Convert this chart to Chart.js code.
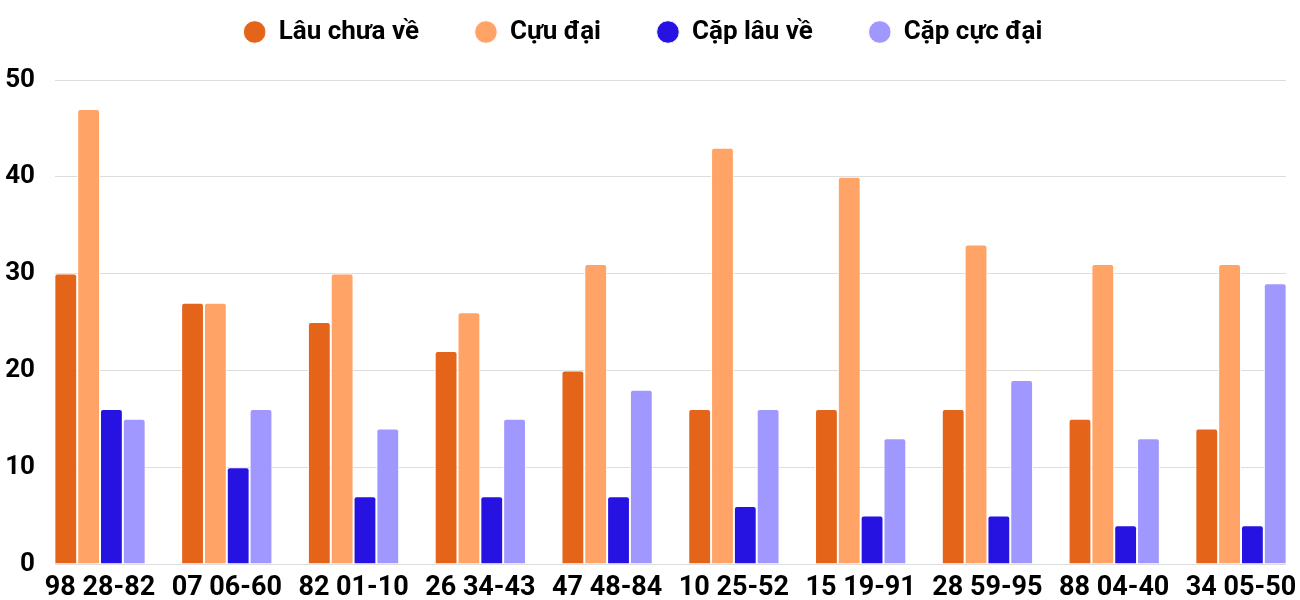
<!DOCTYPE html>
<html>
<head>
<meta charset="utf-8">
<script src="https://cdn.jsdelivr.net/npm/chart.js@4"></script>
<style>
  html, body { margin: 0; padding: 0; background: #fff; }
  #wrap { width: 1300px; height: 600px; }
</style>
</head>
<body>
<div id="wrap"><canvas id="chart"></canvas></div>
<script>
// Data
const categories = ['98 28-82', '07 06-60', '82 01-10', '26 34-43', '47 48-84',
                    '10 25-52', '15 19-91', '28 59-95', '88 04-40', '34 05-50'];
const lauChuaVe  = [30, 27, 25, 22, 20, 16, 16, 16, 15, 14];
const cuuDai     = [47, 27, 30, 26, 31, 43, 40, 33, 31, 31];
const capLauVe   = [16, 10, 7, 7, 7, 6, 5, 5, 4, 4];
const capCucDai  = [15, 16, 14, 15, 18, 16, 13, 19, 13, 29];
const yTicks     = [0, 10, 20, 30, 40, 50];

const seriesNames  = ['Lâu chưa về', 'Cựu đại', 'Cặp lâu về', 'Cặp cực đại'];
const seriesColors = ['#E4641A', '#FFA366', '#2613E2', '#A098FE'];
const seriesValues = [lauChuaVe, cuuDai, capLauVe, capCucDai];

// points on a linear x axis, one group per category index
function toPoints(values) {
    return values.map((v, i) => ({ x: i, y: v }));
}

// keep the legend block a fixed height so the plot starts where the original does
const legendHeight = {
    id: 'legendHeight',
    beforeInit(chart) {
        const fit = chart.legend.fit;
        chart.legend.fit = function () {
            fit.call(this);
            this.height = 117;
        };
    },
};

const ctx = document.getElementById('chart').getContext('2d');

const chart = new Chart(ctx, {
    type: 'bar',
    data: {
        datasets: seriesNames.map((name, k) => ({
            label: name,
            data: toPoints(seriesValues[k]),
            backgroundColor: seriesColors[k],
            borderColor: '#ffffff',
            borderWidth: 1,
            borderRadius: 3,
            borderSkipped: 'bottom',
            categoryPercentage: 0.72,
            barPercentage: 1.0,
        })),
    },
    options: {
        responsive: true,
        maintainAspectRatio: false,
        animation: false,
        layout: { padding: { left: 0, right: 14, top: -37, bottom: 0 } },
        plugins: {
            legend: {
                position: 'top',
                labels: {
                    usePointStyle: true,
                    pointStyle: 'circle',
                    boxWidth: 22,
                    boxHeight: 16,
                    padding: 56,
                    color: '#000',
                    font: { family: 'Roboto', size: 26, weight: 'bold' },
                },
            },
            tooltip: { enabled: false },
        },
        scales: {
            x: {
                type: 'linear',
                min: -0.355,
                max: 9.355,
                offset: false,
                grid: { display: false, drawTicks: false },
                border: { display: false },
                ticks: {
                    stepSize: 1,
                    color: '#000',
                    padding: 8,
                    font: { family: 'Roboto', size: 27, weight: 'bold' },
                    callback: (v) => categories[v] ?? '',
                },
                afterBuildTicks: (scale) => {
                    scale.ticks = categories.map((c, i) => ({ value: i }));
                },
                afterFit: (scale) => {
                    scale.height = 36;
                    scale.paddingRight = 0;
                },
            },
            y: {
                min: 0,
                max: 50,
                grid: { color: '#dddddd', drawTicks: false },
                border: { display: false },
                ticks: {
                    color: '#000',
                    padding: 20,
                    font: { family: 'Roboto', size: 26, weight: 'bold' },
                },
                afterBuildTicks: (scale) => {
                    scale.ticks = yTicks.map(v => ({ value: v }));
                },
                afterFit: (scale) => { scale.width = 55; },
            },
        },
    },
    plugins: [legendHeight],
});
</script>
</body>
</html>
